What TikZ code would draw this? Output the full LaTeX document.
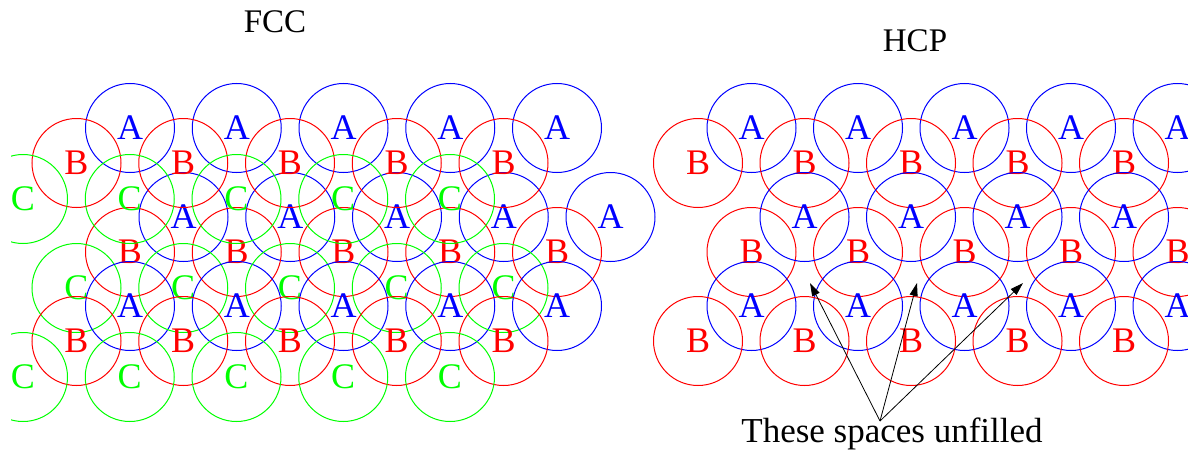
\documentclass[tikz,border=0pt]{standalone}
\usepackage{fontspec}
\setmainfont{Liberation Serif}
\usetikzlibrary{arrows.meta}
\definecolor{xblue}{RGB}{0,0,255}
\definecolor{xred}{RGB}{255,0,0}
\definecolor{xgreen}{RGB}{0,255,0}
\tikzset{
  ball/.style={circle, draw, line width=1pt, minimum size=89pt, inner sep=0pt,
    font=\fontsize{36}{40}\selectfont},
  la/.style={ball, draw=xblue, text=xblue},
  lb/.style={ball, draw=xred, text=xred},
  lc/.style={ball, draw=xgreen, text=xgreen},
  ttl/.style={font=\fontsize{33}{38}\selectfont, text=black},
  note/.style={font=\fontsize{35}{40}\selectfont, text=black, anchor=base},
  pointer/.style={line width=0.8pt, black, -{Triangle[length=13pt,width=8pt]}}
}
\begin{document}
\begin{tikzpicture}[x=1pt,y=-1pt]
\useasboundingbox (0,0) rectangle (1188,452);
\node[ttl] (fcc) at (275,22) {FCC};
\node[ttl] (hcp) at (915,41) {HCP};
\begin{scope}
\clip (11,0) rectangle (1188,452);
% FCC
\foreach \i in {0,...,4} {
  \node[la] (fa1\i) at ({130+106.75*\i},128) {A};
  \node[lb] (fb1\i) at ({76.5+106.75*\i},163) {B};
  \node[lc] (fc1\i) at ({23+106.75*\i},199) {C};
  \node[la] (fa2\i) at ({183.5+106.75*\i},217) {A};
  \node[lb] (fb2\i) at ({130+106.75*\i},252) {B};
  \node[lc] (fc2\i) at ({76.5+106.75*\i},288) {C};
  \node[la] (fa3\i) at ({130+106.75*\i},306) {A};
  \node[lb] (fb3\i) at ({76.5+106.75*\i},341) {B};
  \node[lc] (fc3\i) at ({23+106.75*\i},377) {C};
}
% HCP
\foreach \i in {0,...,4} {
  \node[la] (ha1\i) at ({751.5+106.5*\i},128) {A};
  \node[lb] (hb1\i) at ({698+106.5*\i},163) {B};
  \node[lb] (hb2\i) at ({751.5+106.5*\i},252) {B};
  \node[la] (ha3\i) at ({751.5+106.5*\i},306) {A};
  \node[lb] (hb3\i) at ({698+106.5*\i},341) {B};
}
\foreach \i in {0,...,3} {
  \node[la] (ha2\i) at ({804.5+106.5*\i},217) {A};
}
\end{scope}
\node[note] (txt) at (892,442) {These spaces unfilled};
\coordinate (apex) at (880,421);
\coordinate (gap1) at (810,283);
\coordinate (gap2) at (917,283);
\coordinate (gap3) at (1023,283);
\draw[pointer] (apex) -- (gap1);
\draw[pointer] (apex) -- (gap2);
\draw[pointer] (apex) -- (gap3);
\end{tikzpicture}
\end{document}
